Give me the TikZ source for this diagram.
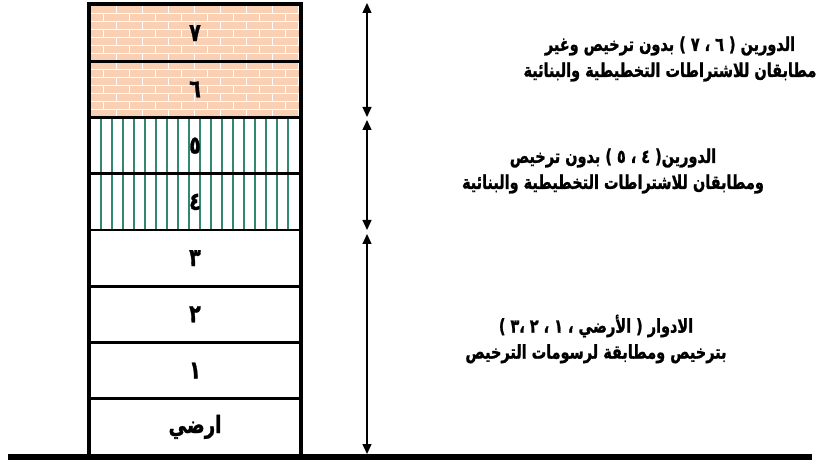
\documentclass[tikz,border=0pt]{standalone}
\usepackage{fontspec}
\usetikzlibrary{arrows.meta,calc}
\TeXXeTstate=1
\newfontfamily\arabicnarrow[Script=Arabic, FakeStretch=0.76, FakeBold=1.2]{DejaVu Sans}
\definecolor{brickfill}{RGB}{249,208,180}
\definecolor{stripe}{RGB}{50,135,112}

\begin{document}
\begin{tikzpicture}[
    x=1pt, y=-1pt,
    floor/.style={draw, line width=2.6pt, minimum width=210pt, minimum height=56.25pt, inner sep=0pt,
                  font=\arabicnarrow\bfseries\fontsize{25}{26}\selectfont},
    plain/.style={floor, fill=white},
    brick/.style={floor, fill=brickfill, path picture={
        \foreach \r in {1,...,7}
            \draw[white, line width=0.9pt] ($(path picture bounding box.north west)+(0,\r*8)$) -- ++(220,0);
        \foreach \r in {0,...,7}
            \foreach \c in {0,...,8}
                \draw[white, line width=0.9pt] ($(path picture bounding box.north west)+({\c*26+mod(\r,2)*13},\r*8)$) -- ++(0,8);
    }},
    striped/.style={floor, fill=white, path picture={
        \foreach \i in {0,...,17}
            \draw[stripe, line width=1.6pt] ($(path picture bounding box.north west)+(11+\i*11,0)$) -- ++(0,60);
    }},
    dim/.style={{Triangle[length=10pt,width=9pt]}-{Triangle[length=10pt,width=9pt]}, line width=1.3pt},
    note/.style={align=center, inner sep=0pt, font=\arabicnarrow\bfseries\fontsize{19}{26}\selectfont},
]
    \useasboundingbox (0,0) rectangle (817,465);

    % floors, top to bottom
    \node[brick]   (f7) at (195,33.1)  {\beginR ٧\endR};
    \node[brick]   (f6) at (195,89.4)  {\beginR ٦\endR};
    \node[striped] (f5) at (195,145.6) {\beginR ٥\endR};
    \node[striped] (f4) at (195,201.9) {\beginR ٤\endR};
    \node[plain]   (f3) at (195,258.1) {\beginR ٣\endR};
    \node[plain]   (f2) at (195,314.4) {\beginR ٢\endR};
    \node[plain]   (f1) at (195,370.6) {\beginR ١\endR};
    \node[plain]   (f0) at (195,426.9) {\beginR\fontsize{24}{26}\selectfont ارضي\endR};

    % outer walls and ground
    \draw[line width=4pt] (f7.north west) rectangle (f0.south east);
    \draw[line width=6pt] (8,457) -- (812,457);

    % dimension lines
    \coordinate (d1) at (367,3);
    \coordinate (d2) at (367,117);
    \coordinate (d3) at (367,120);
    \coordinate (d4) at (367,230);
    \coordinate (d5) at (367,234);
    \coordinate (d6) at (367,454);
    \draw[dim] (d1) -- (d2);
    \draw[dim] (d3) -- (d4);
    \draw[dim] (d5) -- (d6);

    % notes
    \node[note] (lbl67) at (670,59)  {\beginR الدورين ( ٦ ، ٧ ) بدون ترخيص وغير\endR\\
                                      \beginR مطابقان للاشتراطات التخطيطية والبنائية\endR};
    \node[note] (lbl45) at (613,171) {\beginR الدورين( ٤ ، ٥ ) بدون ترخيص\endR\\
                                      \beginR ومطابقان للاشتراطات التخطيطية والبنائية\endR};
    \node[note] (lbl03) at (596,339) {\beginR الادوار ( الأرضي ، ١ ، ٢ ،٣ )\endR\\
                                      \beginR بترخيص ومطابقة لرسومات الترخيص\endR};
\end{tikzpicture}
\end{document}
